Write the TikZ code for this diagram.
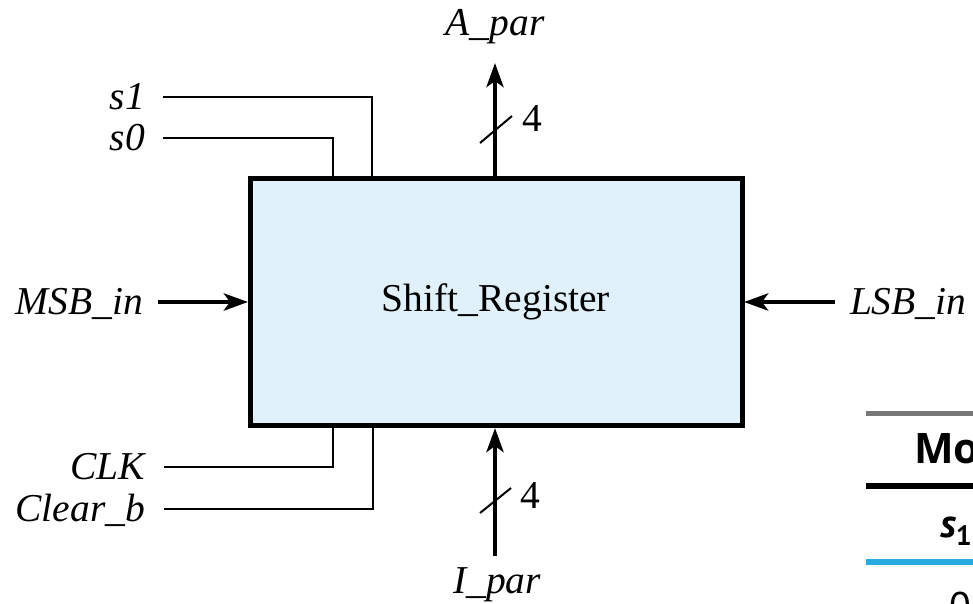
\documentclass[tikz,border=0pt]{standalone}
\usepackage{fontspec}
\setmainfont{Liberation Serif}
\newfontfamily\tabfont{PT Sans}
\newfontfamily\headfont{Open Sans}
\usetikzlibrary{arrows.meta}
\definecolor{boxblue}{RGB}{224,241,251}
\definecolor{tabblue}{RGB}{41,171,226}
\definecolor{tabgray}{RGB}{120,120,120}
\begin{document}
\begin{tikzpicture}[x=1pt,y=-1pt,
  every node/.style={inner sep=0pt,outer sep=0pt},
  lbl/.style={font=\fontsize{39.5}{47}\selectfont\itshape},
  num/.style={font=\fontsize{39.5}{47}\selectfont},
  wire/.style={line width=2pt},
  bus/.style={line width=4.5pt},
  busarrow/.style={bus,-{Stealth[length=24pt,width=17pt,inset=6pt]}},
  slash/.style={line width=2pt},
  regbox/.style={draw,line width=5pt,fill=boxblue,minimum width=492pt,minimum height=247pt,font=\fontsize{39.5}{47}\selectfont},
  tabhead/.style={font=\headfont\bfseries\fontsize{42}{48}\selectfont},
  tabsub/.style={font=\tabfont\bfseries\fontsize{40}{48}\selectfont}
]
\useasboundingbox (0,0) rectangle (973,603);
\clip (0,0) rectangle (973,603);

% register box
\node[regbox] (sr) at (496,301.5) {Shift\_Register};

% labels
\node[lbl,anchor=base east] (s1) at (145,109) {s1};
\node[lbl,anchor=base east] (s0) at (145,150) {s0};
\node[lbl,anchor=base east] (clk) at (145,479) {CLK};
\node[lbl,anchor=base east] (clr) at (145,521) {Clear\_b};
\node[lbl,anchor=base east] (msb) at (143,314) {MSB\_in};
\node[lbl,anchor=base west] (lsb) at (850,314) {LSB\_in};
\node[lbl,anchor=base] (apar) at (495,35) {A\_par};
\node[lbl,anchor=base] (ipar) at (497,593) {I\_par};
\node[num,anchor=base] (n4a) at (532,131) {4};
\node[num,anchor=base] (n4b) at (530,508) {4};

% wire end points
\coordinate (s1w) at (163,97);   \coordinate (s1e) at (372,178);
\coordinate (s0w) at (163,138);  \coordinate (s0e) at (333,178);
\coordinate (clkw) at (164,467); \coordinate (clke) at (333,425);
\coordinate (clrw) at (164,509); \coordinate (clre) at (373,425);
\coordinate (aparS) at (495,178); \coordinate (aparT) at (495,63);
\coordinate (iparS) at (495,556); \coordinate (iparT) at (495,428);
\coordinate (msbS) at (158,302); \coordinate (msbT) at (248,302);
\coordinate (lsbS) at (835,302); \coordinate (lsbT) at (744,302);
\coordinate (sla1) at (480,143); \coordinate (sla2) at (512,116);
\coordinate (slb1) at (480,513); \coordinate (slb2) at (511,488);

\draw[wire] (s1w) -| (s1e);
\draw[wire] (s0w) -| (s0e);
\draw[wire] (clkw) -| (clke);
\draw[wire] (clrw) -| (clre);
\draw[busarrow] (aparS) -- (aparT);
\draw[busarrow] (iparS) -- (iparT);
\draw[busarrow] (msbS) -- (msbT);
\draw[busarrow] (lsbS) -- (lsbT);
\draw[slash] (sla1) -- (sla2);
\draw[slash] (slb1) -- (slb2);

% partial table at right
\draw[line width=5pt,tabgray] (866,413) -- (980,413);
\draw[line width=6pt,black] (866,486) -- (980,486);
\draw[line width=6pt,tabblue] (866,562) -- (980,562);
\node[tabhead,anchor=base west] (mode) at (914,463) {Mo};
\node[tabsub,anchor=base west] (s1h) at (940,537) {\itshape s\raisebox{-8pt}{\upshape\fontsize{28}{30}\selectfont 1}};
\node[font=\tabfont\fontsize{40}{48}\selectfont,anchor=base west] (zero) at (949,620) {0};
\end{tikzpicture}
\end{document}
